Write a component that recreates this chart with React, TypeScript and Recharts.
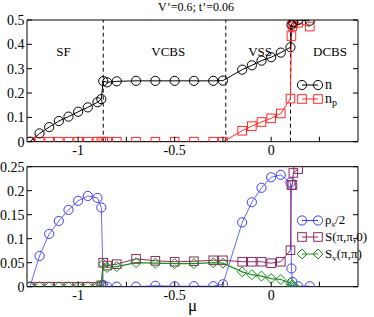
import { LineChart, Line, XAxis, YAxis, ReferenceLine, ReferenceDot } from 'recharts'

const FONT = "'Liberation Serif', 'Times New Roman', serif"

// upper panel: density n and pair density n_p vs mu
const muN = [-1.25, -1.2, -1.15, -1.1, -1.05, -1.0, -0.95, -0.9, -0.88, -0.87, -0.85, -0.8, -0.7, -0.6, -0.5, -0.4, -0.3, -0.25, -0.15, -0.1, -0.05, 0, 0.05, 0.1, 0.105, 0.115, 0.14, 0.2]
const nVals = [0, 0.034, 0.06, 0.085, 0.103, 0.123, 0.141, 0.162, 0.175, 0.249, 0.244, 0.248, 0.25, 0.25, 0.25, 0.25, 0.25, 0.251, 0.296, 0.314, 0.333, 0.347, 0.366, 0.388, 0.481, 0.492, 0.5, 0.497]

const muNp = [-1.25, -1.2, -1.15, -1.1, -1.05, -1.0, -0.95, -0.9, -0.88, -0.87, -0.85, -0.8, -0.7, -0.6, -0.5, -0.4, -0.3, -0.25, -0.15, -0.1, -0.05, 0, 0.05, 0.1, 0.105, 0.11, 0.115, 0.14, 0.2]
const npVals = [0, 0, 0, 0, 0, 0, 0, 0, 0, 0, 0, 0, 0, 0, 0, 0, 0, 0, 0.045, 0.064, 0.081, 0.096, 0.116, 0.177, 0.434, 0.475, 0.486, 0.489, 0.473]

// lower panel: superfluid density and structure factors
const muRho = [-1.25, -1.2, -1.15, -1.1, -1.05, -1.0, -0.95, -0.9, -0.88, -0.87, -0.85, -0.8, -0.7, -0.6, -0.5, -0.4, -0.3, -0.25, -0.15, -0.1, -0.05, 0, 0.05, 0.1, 0.105, 0.11, 0.14, 0.2]
const rhoVals = [0, 0.064, 0.11, 0.137, 0.16, 0.179, 0.189, 0.185, 0.165, 0.002, 0, 0, 0, 0.002, 0.001, 0.001, 0.001, 0.005, 0.134, 0.176, 0.206, 0.228, 0.233, 0.217, 0.038, 0.01, 0.001, 0.001]

const muS = [-1.25, -1.2, -1.15, -1.1, -1.05, -1.0, -0.95, -0.9, -0.88, -0.87, -0.85, -0.8, -0.7, -0.6, -0.5, -0.4, -0.3, -0.25, -0.15, -0.1, -0.05, 0, 0.05, 0.1, 0.105, 0.11, 0.115, 0.14]
const sVals = [0, 0, 0, 0, 0, 0, 0, 0, 0.003, 0.05, 0.044, 0.047, 0.058, 0.054, 0.052, 0.053, 0.055, 0.055, 0.052, 0.052, 0.052, 0.049, 0.052, 0.076, 0.212, 0.212, 0.237, 0.245]

const muSv = [-1.25, -1.2, -1.15, -1.1, -1.05, -1.0, -0.95, -0.9, -0.88, -0.87, -0.85, -0.8, -0.7, -0.6, -0.5, -0.4, -0.3, -0.25, -0.15, -0.1, -0.05, 0, 0.05, 0.1, 0.105, 0.11, 0.12]
const svVals = [0, 0, 0, 0, 0, 0, 0, 0, 0.004, 0.047, 0.04, 0.042, 0.05, 0.049, 0.048, 0.048, 0.05, 0.049, 0.031, 0.025, 0.022, 0.017, 0.015, 0.008, 0.003, 0.001, 0]

// phase boundaries and names
const boundaries = [-0.87, -0.235, 0.1]
const phaseNames = ['SF', 'VCBS', 'VSS', 'DCBS']
const phaseMu = [-1.076, -0.533, -0.057, 0.305]

// axis ticks
const xTicks = [-1, -0.75, -0.5, -0.25, 0, 0.25]
const topYTicks = [0, 0.05, 0.1, 0.15, 0.2, 0.25, 0.3, 0.35, 0.4, 0.45, 0.5]
const botYTicks = [0, 0.025, 0.05, 0.075, 0.1, 0.125, 0.15, 0.175, 0.2, 0.225, 0.25]

const X_DOMAIN: [number, number] = [-1.265, 0.45]

const zip = (xs: number[], ys: number[]) => xs.map((mu, i) => ({ mu, v: ys[i] }))

const RED = '#ff2a2a'
const BLUE = '#3d3dff'
const MAROON = '#8e2a5e'
const GREEN = '#1a8f1a'

const near = (v: number, step: number) => Math.abs(v / step - Math.round(v / step)) < 1e-6

function fmtNum(v: number) {
  if (Math.abs(v) < 1e-9) return '0'
  return String(+v.toFixed(2))
}

type Side = 'left' | 'right' | 'top' | 'bottom'

// inward ticks (xmgrace style), labels only where labelStep fits
function makeTick(side: Side, majorStep: number, labelStep?: number) {
  return (props: any) => {
    const { x, y, payload, index } = props
    const v: number = payload.value
    const len = near(v, majorStep) ? 5 : 2.5
    let x2 = x
    let y2 = y
    if (side === 'left') x2 = x + len
    if (side === 'right') x2 = x - len
    if (side === 'bottom') y2 = y - len
    if (side === 'top') y2 = y + len
    const showLabel = labelStep !== undefined && near(v, labelStep)
    return (
      <g key={`t-${side}-${index}`}>
        <line x1={x} y1={y} x2={x2} y2={y2} stroke="#000" strokeWidth={1} />
        {showLabel && side === 'left' && (
          <text x={x - 2.5} y={y} dy="0.35em" textAnchor="end" fontFamily={FONT} fontSize={14} fill="#000">
            {fmtNum(v)}
          </text>
        )}
        {showLabel && side === 'bottom' && (
          <text x={x} y={y + 13.5} textAnchor="middle" fontFamily={FONT} fontSize={14} fill="#000">
            {fmtNum(v)}
          </text>
        )}
      </g>
    )
  }
}

function circleDot(color: string) {
  return (p: any) => (
    <circle key={`c-${p.index}`} cx={p.cx} cy={p.cy} r={4.6} fill="none" stroke={color} strokeWidth={1} />
  )
}

function squareDot(color: string) {
  return (p: any) => (
    <rect key={`s-${p.index}`} x={p.cx - 4.3} y={p.cy - 4.3} width={8.6} height={8.6} fill="none" stroke={color} strokeWidth={1} />
  )
}

function diamondDot(color: string) {
  return (p: any) => (
    <path
      key={`d-${p.index}`}
      d={`M${p.cx},${p.cy - 5}L${p.cx + 5},${p.cy}L${p.cx},${p.cy + 5}L${p.cx - 5},${p.cy}Z`}
      fill="none"
      stroke={color}
      strokeWidth={1}
    />
  )
}

function marker(kind: string, cx: number, cy: number, color: string) {
  if (kind === 'circle') return <circle cx={cx} cy={cy} r={4.6} fill="none" stroke={color} />
  if (kind === 'square') return <rect x={cx - 4.3} y={cy - 4.3} width={8.6} height={8.6} fill="none" stroke={color} />
  return <path d={`M${cx},${cy - 5}L${cx + 5},${cy}L${cx},${cy + 5}L${cx - 5},${cy}Z`} fill="none" stroke={color} />
}

type LegendItem = { kind: string; color: string; label: React.ReactNode; y: number }

function LegendBox({ items, left, top, fontSize }: { items: LegendItem[]; left: number; top: number; fontSize: number }) {
  return (
    <svg width={78} height={60} style={{ position: 'absolute', left, top, overflow: 'visible' }}>
      {items.map((it, i) => (
        <g key={i}>
          <line x1={6} x2={22} y1={it.y} y2={it.y} stroke={it.color} strokeWidth={1} />
          {marker(it.kind, 6, it.y, it.color)}
          {marker(it.kind, 22, it.y, it.color)}
          <text x={29} y={it.y} dy="0.3em" fontFamily={FONT} fontSize={fontSize} fill="#000">
            {it.label}
          </text>
        </g>
      ))}
    </svg>
  )
}

export default function App() {
  const nData = zip(muN, nVals)
  const npData = zip(muNp, npVals)
  const rhoData = zip(muRho, rhoVals)
  const sData = zip(muS, sVals)
  const svData = zip(muSv, svVals)

  return (
    <div style={{ position: 'absolute', left: 0, top: 0, width: 374, height: 317, background: '#fff', fontFamily: FONT }}>
      <div style={{ position: 'absolute', left: 0, width: 392, top: 0, textAlign: 'center', fontSize: 12, lineHeight: '14px' }}>
        V’=0.6; t’=0.06
      </div>

      <div style={{ position: 'absolute', left: 0, top: 0 }}>
        <LineChart width={374} height={160} margin={{ top: 0, right: 0, bottom: 0, left: 0 }}>
          <XAxis xAxisId="top" orientation="top" type="number" domain={X_DOMAIN} ticks={xTicks} height={20} tickSize={0} tickMargin={0} tickLine={false} stroke="#000" tick={makeTick('top', 0.25)} allowDataOverflow />
          <XAxis dataKey="mu" type="number" domain={X_DOMAIN} ticks={xTicks} height={18.3} tickSize={0} tickMargin={0} tickLine={false} stroke="#000" tick={makeTick('bottom', 0.25, 0.5)} allowDataOverflow />
          <YAxis type="number" domain={[0, 0.5]} ticks={topYTicks} width={27} tickSize={0} tickMargin={0} tickLine={false} stroke="#000" tick={makeTick('left', 0.1, 0.1)} allowDataOverflow />
          <YAxis yAxisId="right" orientation="right" type="number" domain={[0, 0.5]} ticks={topYTicks} width={16} tickSize={0} tickMargin={0} tickLine={false} stroke="#000" tick={makeTick('right', 0.1)} allowDataOverflow />
          {boundaries.map(b => (
            <ReferenceLine key={b} x={b} stroke="#000" strokeDasharray="4 3" strokeWidth={1} />
          ))}
          {phaseNames.map((name, i) => (
            <ReferenceDot
              key={name}
              x={phaseMu[i]}
              y={0.373}
              r={0}
              stroke="none"
              label={{ value: name, position: 'center', fill: '#000', fontSize: 13, fontFamily: FONT }}
            />
          ))}
          <Line data={npData} dataKey="v" stroke={RED} strokeWidth={1} dot={squareDot(RED)} isAnimationActive={false} />
          <Line data={nData} dataKey="v" stroke="#000" strokeWidth={1} dot={circleDot('#000')} isAnimationActive={false} />
        </LineChart>
      </div>

      <LegendBox
        left={296}
        top={75}
        fontSize={14}
        items={[
          { kind: 'circle', color: '#000', label: 'n', y: 10 },
          { kind: 'square', color: RED, label: <>n<tspan fontSize={10} dy={3}>p</tspan></>, y: 24 },
        ]}
      />

      <div style={{ position: 'absolute', left: 0, top: 155 }}>
        <LineChart width={374} height={162} margin={{ top: 0, right: 0, bottom: 0, left: 0 }}>
          <XAxis xAxisId="top" orientation="top" type="number" domain={X_DOMAIN} ticks={xTicks} height={11.7} tickSize={0} tickMargin={0} tickLine={false} stroke="#000" tick={makeTick('top', 0.25)} allowDataOverflow />
          <XAxis
            dataKey="mu"
            type="number"
            domain={X_DOMAIN}
            ticks={xTicks}
            height={30.3}
            tickSize={0}
            tickMargin={0}
            tickLine={false}
            stroke="#000"
            tick={makeTick('bottom', 0.25, 0.5)}
            allowDataOverflow
            label={{ value: 'μ', position: 'insideBottom', offset: 6, fill: '#000', fontSize: 17, fontFamily: FONT }}
          />
          <YAxis type="number" domain={[0, 0.25]} ticks={botYTicks} width={27} tickSize={0} tickMargin={0} tickLine={false} stroke="#000" tick={makeTick('left', 0.05, 0.05)} allowDataOverflow />
          <YAxis yAxisId="right" orientation="right" type="number" domain={[0, 0.25]} ticks={botYTicks} width={16} tickSize={0} tickMargin={0} tickLine={false} stroke="#000" tick={makeTick('right', 0.05)} allowDataOverflow />
          <Line data={rhoData} dataKey="v" stroke={BLUE} strokeWidth={0.8} dot={circleDot(BLUE)} isAnimationActive={false} />
          <Line data={sData} dataKey="v" stroke={MAROON} strokeWidth={1} dot={squareDot(MAROON)} isAnimationActive={false} />
          <Line data={svData} dataKey="v" stroke={GREEN} strokeWidth={1.2} dot={diamondDot(GREEN)} isAnimationActive={false} />
        </LineChart>
      </div>

      <LegendBox
        left={296}
        top={212}
        fontSize={13}
        items={[
          { kind: 'circle', color: BLUE, label: <>ρ<tspan fontSize={9} dy={2.5}>s</tspan><tspan dy={-2.5}>/2</tspan></>, y: 8.5 },
          { kind: 'square', color: MAROON, label: 'S(π,π,0)', y: 25 },
          { kind: 'diamond', color: GREEN, label: <>S<tspan fontSize={9} dy={3}>v</tspan><tspan dy={-3}>(π,π)</tspan></>, y: 42 },
        ]}
      />
    </div>
  )
}
